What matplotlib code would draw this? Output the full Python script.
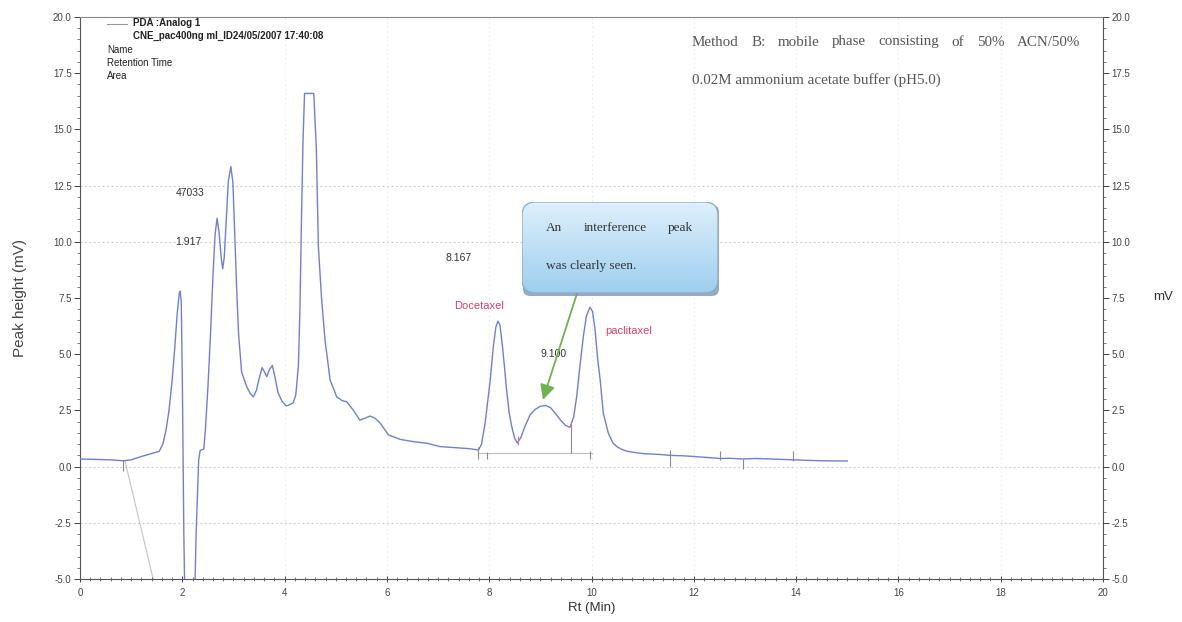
import matplotlib
matplotlib.use("Agg")
import matplotlib.pyplot as plt
import numpy as np
from matplotlib.patches import FancyBboxPatch
from matplotlib.ticker import MultipleLocator, FormatStrFormatter
from matplotlib.transforms import IdentityTransform

plt.rcParams['font.family'] = ['Liberation Sans', 'DejaVu Sans']

# ---- chromatogram trace (retention time in min, signal in mV) ----
rt_min = [0.00, 0.30, 0.60, 0.85, 1.00, 1.20, 1.40, 1.55, 1.62, 1.68, 1.74, 1.80,
          1.85, 1.90, 1.94, 1.96, 1.98, 2.00, 2.03, 2.05, 2.24, 2.27, 2.32, 2.35,
          2.42, 2.45, 2.50, 2.55, 2.60, 2.64, 2.68, 2.72, 2.76, 2.79, 2.82, 2.86,
          2.90, 2.95, 2.99, 3.03, 3.07, 3.10, 3.16, 3.26, 3.33, 3.39, 3.45, 3.50,
          3.56, 3.61, 3.65, 3.70, 3.76, 3.81, 3.87, 3.95, 4.03, 4.10, 4.17, 4.22,
          4.27, 4.30, 4.33, 4.36, 4.39, 4.57, 4.62, 4.66, 4.72, 4.79, 4.89, 5.02,
          5.13, 5.21, 5.34, 5.47, 5.57, 5.67, 5.77, 5.87, 6.03, 6.26, 6.52, 6.78,
          7.04, 7.36, 7.60, 7.79, 7.85, 7.92, 7.97, 8.02, 8.08, 8.13, 8.17, 8.21,
          8.26, 8.30, 8.34, 8.39, 8.44, 8.50, 8.55, 8.62, 8.70, 8.80, 8.90, 9.00,
          9.10, 9.20, 9.30, 9.40, 9.50, 9.58, 9.65, 9.71, 9.78, 9.84, 9.90, 9.97,
          10.02, 10.07, 10.12, 10.17, 10.23, 10.33, 10.42, 10.50, 10.60, 10.70,
          10.81, 11.00, 11.34, 11.53, 11.80, 12.00, 12.30, 12.51, 12.70, 12.96,
          13.20, 13.50, 13.94, 14.20, 14.50, 14.80, 15.00]
signal_mv = [0.34, 0.32, 0.30, 0.26, 0.30, 0.45, 0.58, 0.68, 1.00, 1.60, 2.50, 3.80,
             5.20, 6.80, 7.70, 7.80, 7.30, 4.00, -3.00, -6.00, -6.00, -3.00, 0.30, 0.72,
             0.78, 1.60, 3.50, 5.80, 8.50, 10.30, 11.05, 10.40, 9.30, 8.80, 9.30, 11.00,
             12.70, 13.35, 12.60, 10.00, 7.50, 5.90, 4.20, 3.55, 3.25, 3.10, 3.40, 3.90,
             4.40, 4.20, 4.00, 4.30, 4.50, 4.00, 3.30, 2.90, 2.70, 2.75, 2.85, 3.20,
             4.50, 7.00, 11.00, 14.50, 16.60, 16.60, 14.20, 9.80, 7.56, 5.63, 3.85, 3.10,
             2.93, 2.89, 2.52, 2.07, 2.15, 2.25, 2.15, 1.93, 1.41, 1.21, 1.11, 1.04,
             0.89, 0.84, 0.80, 0.74, 1.00, 1.93, 2.90, 3.85, 5.33, 6.20, 6.47, 6.30,
             5.33, 4.40, 3.41, 2.40, 1.78, 1.25, 1.05, 1.30, 1.80, 2.30, 2.55, 2.68,
             2.72, 2.62, 2.35, 2.05, 1.82, 1.75, 2.20, 3.10, 4.60, 5.78, 6.70, 7.09,
             6.90, 6.08, 4.80, 3.85, 2.38, 1.48, 1.05, 0.88, 0.76, 0.68,
             0.64, 0.58, 0.54, 0.50, 0.48, 0.45, 0.40, 0.36, 0.37, 0.34,
             0.36, 0.34, 0.30, 0.28, 0.26, 0.25, 0.25]

# baseline drop line at the start of the run
drop_rt = [0.88, 1.43]
drop_mv = [0.25, -5.0]

# integration baseline under the analyte peaks
base_rt = [7.80, 10.00]
base_mv = [0.60, 0.60]

# integration event ticks (time, lower, upper)
event_rt = [0.85, 7.78, 7.95, 9.60, 9.97, 11.53, 12.51, 12.96, 13.94]
event_lo = [-0.20, 0.35, 0.35, 0.60, 0.35, 0.00, 0.30, -0.10, 0.25]
event_hi = [0.30, 0.85, 0.65, 1.90, 0.70, 0.75, 0.70, 0.35, 0.70]
split_rt = [8.56, 9.60]
split_lo = [0.95, 1.65]
split_hi = [1.35, 2.05]

# peak annotations
peak_text = ["47033", "1.917", "8.167", "9.100"]
peak_text_rt = [2.15, 2.11, 7.41, 9.25]
peak_text_mv = [12.17, 9.98, 9.28, 5.00]
compound_names = ["Docetaxel", "paclitaxel"]
compound_rt = [7.80, 10.73]
compound_mv = [7.13, 6.03]

grid_levels = [12.5, 10.0, 0.0, -2.5]
grid_times = [4, 6, 8, 10, 12, 14, 16, 18]

W, H = 1182, 622
fig = plt.figure(figsize=(W / 100, H / 100), dpi=100)
fig.patch.set_facecolor('white')

L, R, T, B = 80, 1103, 17, 579
ax = fig.add_axes([L / W, 1 - B / H, (R - L) / W, (B - T) / H])
ax.set_xlim(0, 20)
ax.set_ylim(-5, 20)

tick_col = '#444444'
for lv in grid_levels:
    ax.axhline(lv, color='#c8c8c8', lw=0.8, ls=(0, (1.5, 2.5)), zorder=0)
for tv in grid_times:
    ax.axvline(tv, color='#ececec', lw=0.8, ls=(0, (1.5, 2.5)), zorder=0)

trace_col = '#6f80d4'
ax.plot(drop_rt, drop_mv, color='#c4c4c4', lw=0.8, zorder=1)
ax.plot(base_rt, base_mv, color='#bdbdbd', lw=0.8, zorder=1)
ax.plot(rt_min, signal_mv, color=trace_col, lw=1.0, zorder=3, clip_on=True)
ax.vlines(event_rt, event_lo, event_hi, color='#8a8a8a', lw=0.8, zorder=4)
ax.vlines(split_rt, split_lo, split_hi, color='#e07090', lw=0.8, zorder=4)

for s, x, y in zip(peak_text, peak_text_rt, peak_text_mv):
    ax.text(x, y, s, fontsize=7.5, color='#333333', ha='center', va='center')
for s, x, y in zip(compound_names, compound_rt, compound_mv):
    ax.text(x, y, s, fontsize=8, color='#e0406a', ha='center', va='center')

# axes styling
for sp in ax.spines.values():
    sp.set_color('#555555')
    sp.set_linewidth(0.8)
ax.spines['top'].set_color('#888888')
ax.xaxis.set_major_locator(MultipleLocator(2))
ax.xaxis.set_minor_locator(MultipleLocator(0.2))
ax.yaxis.set_major_locator(MultipleLocator(2.5))
ax.yaxis.set_minor_locator(MultipleLocator(0.5))
ax.yaxis.set_major_formatter(FormatStrFormatter('%.1f'))
ax.tick_params(axis='x', which='major', direction='inout', length=5, width=0.7,
               colors=tick_col, labelsize=7, pad=4)
ax.tick_params(axis='x', which='minor', direction='inout', length=3, width=0.5, colors=tick_col)
ax.tick_params(axis='y', which='major', direction='out', length=4, width=0.7,
               colors=tick_col, labelsize=7, pad=2)
ax.tick_params(axis='y', which='minor', direction='out', length=2, width=0.5, colors=tick_col)
ax.tick_params(top=False, right=False, which='both')

ax2 = ax.twinx()
ax2.set_ylim(-5, 20)
ax2.yaxis.set_major_locator(MultipleLocator(2.5))
ax2.yaxis.set_minor_locator(MultipleLocator(0.5))
ax2.yaxis.set_major_formatter(FormatStrFormatter('%.1f'))
ax2.tick_params(axis='y', which='major', direction='out', length=4, width=0.7,
                colors=tick_col, labelsize=7, pad=2)
ax2.tick_params(axis='y', which='minor', direction='out', length=2, width=0.5, colors=tick_col)
for sp in ax2.spines.values():
    sp.set_visible(False)

ax.set_xlabel('Rt (Min)', fontsize=9.5, color='#333333', labelpad=3)
ax.set_ylabel('Peak height (mV)', fontsize=11, color='#444444', labelpad=19)
fig.text(1163 / W, 1 - 297 / H, 'mV', fontsize=9.5, color='#333333', ha='center', va='center')

# header block (top left)
px = IdentityTransform()
fig.add_artist(plt.Line2D([107, 127], [H - 24, H - 24], color='#999999', lw=0.8, transform=px))
hdr = dict(fontsize=7, color='#222222', ha='left', va='center', transform=px)
fig.text(133, H - 23, 'PDA :Analog 1', fontweight='bold', **hdr)
fig.text(133, H - 36, 'CNE_pac400ng ml_ID24/05/2007 17:40:08', fontweight='bold', **hdr)
fig.text(107, H - 50, 'Name', **hdr)
fig.text(107, H - 63, 'Retention Time', **hdr)
fig.text(107, H - 76, 'Area', **hdr)

renderer = fig.canvas.get_renderer()


def justified(words, x0, x1, y, **kw):
    arts = [fig.text(0, y, w, transform=px, ha='left', va='center', **kw) for w in words]
    widths = [a.get_window_extent(renderer).width for a in arts]
    gap = (x1 - x0 - sum(widths)) / max(len(words) - 1, 1)
    x = x0
    for a, w in zip(arts, widths):
        a.set_position((x, y))
        x += w + gap


serif = dict(family=['Liberation Serif', 'DejaVu Serif'], fontsize=10.8, color='#555555')
justified('Method B: mobile phase consisting of 50% ACN/50%'.split(), 692, 1080, H - 42, **serif)
fig.text(692, H - 80, '0.02M ammonium acetate buffer (pH5.0)', transform=px,
         ha='left', va='center', **serif)

# callout box with gradient fill and a soft drop shadow
bx0, bx1, by0, by1 = 522, 718, 202, 293
shadow = FancyBboxPatch(((bx0 + 1) / W, 1 - (by1 + 3) / H), (bx1 - bx0) / W, (by1 - by0) / H,
                        boxstyle='round,pad=0,rounding_size=0.006',
                        mutation_aspect=W / H, transform=fig.transFigure,
                        fc='#7f95ad', ec='none', alpha=0.8, zorder=5)
fig.add_artist(shadow)
cax = fig.add_axes([bx0 / W, 1 - by1 / H, (bx1 - bx0) / W, (by1 - by0) / H])
cax.set_zorder(10)
cax.set_axis_off()
cax.set_xlim(0, 1)
cax.set_ylim(0, 1)
top_c = np.array([0.87, 0.94, 0.985])
bot_c = np.array([0.62, 0.81, 0.94])
grad = np.linspace(0, 1, 64)[:, None, None]
img = bot_c * (1 - grad) + top_c * grad
img = np.repeat(img, 2, axis=1)
frame = FancyBboxPatch((0, 0), 1, 1, boxstyle='round,pad=0,rounding_size=0.07',
                       mutation_aspect=(bx1 - bx0) / (by1 - by0),
                       transform=cax.transAxes, fc='none', ec='#86acd0', lw=0.9)
im = cax.imshow(img, extent=[0, 1, 0, 1], origin='lower', aspect='auto', interpolation='bilinear')
im.set_clip_path(frame)
cax.add_patch(frame)

box_txt = dict(family=['Liberation Serif', 'DejaVu Serif'], fontsize=9.5, color='#333333',
               zorder=20)
justified(['An', 'interference', 'peak'], 546, 693, H - 228, **box_txt)
fig.text(546, H - 266, 'was clearly seen.', transform=px, ha='left', va='center', **box_txt)

# arrow pointing at the interference peak
ax.annotate('', xy=(9.05, 2.97), xytext=(9.72, 7.73),
            arrowprops=dict(arrowstyle='-|>,head_length=0.9,head_width=0.45',
                            color='#6fb24f', lw=1.3, shrinkA=0, shrinkB=0))

fig.savefig('out.png', dpi=100, facecolor='white')
